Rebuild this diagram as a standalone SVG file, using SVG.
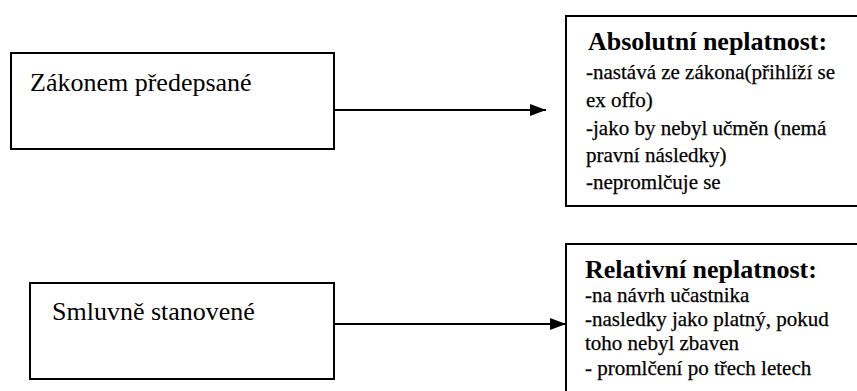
<svg xmlns="http://www.w3.org/2000/svg" width="857" height="391" viewBox="0 0 857 391">
  <style>
    .box { fill: #fff; stroke: #000; stroke-width: 2; }
    .conn { stroke: #000; stroke-width: 2; fill: none; marker-end: url(#arrow); }
  </style>
  <defs>
    <marker id="arrow" markerWidth="16" markerHeight="12" refX="16" refY="6" orient="auto" markerUnits="userSpaceOnUse">
      <path d="M0,0 L16,6 L0,12 Z" fill="#000"/>
    </marker>
  </defs>
  <rect width="857" height="391" fill="#fff"/>

  <g id="node-zakonem" font-family="Liberation Serif" font-size="26" fill="#000">
    <rect class="box" x="11" y="53" width="323" height="96"/>
    <text x="30" y="91">Zákonem předepsané</text>
  </g>

  <g id="node-smluvne" font-family="Liberation Serif" font-size="26" fill="#000">
    <rect class="box" x="30" y="283" width="304" height="96"/>
    <text x="52" y="320">Smluvně stanovené</text>
  </g>

  <g id="node-absolutni" font-family="Liberation Serif" font-size="21" fill="#000">
    <rect class="box" x="566" y="16" width="300" height="190"/>
    <text x="588" y="50" font-size="26" font-weight="bold">Absolutní neplatnost:</text>
    <g stroke="#000" stroke-width="0.25">
      <text x="586" y="79">-nastává ze zákona(přihlíží se</text>
      <text x="586" y="107">ex offo)</text>
      <text x="586" y="135">-jako by nebyl učměn (nemá</text>
      <text x="586" y="162">pravní následky)</text>
      <text x="586" y="189">-nepromlčuje se</text>
    </g>
  </g>

  <g id="node-relativni" font-family="Liberation Serif" font-size="21" fill="#000">
    <rect class="box" x="566" y="244" width="300" height="160"/>
    <text x="585" y="278" font-size="26" font-weight="bold">Relativní neplatnost:</text>
    <g stroke="#000" stroke-width="0.25">
      <text x="585" y="302">-na návrh učastnika</text>
      <text x="585" y="326">-nasledky jako platný, pokud</text>
      <text x="585" y="350">toho nebyl zbaven</text>
      <text x="585" y="375">- promlčení po třech letech</text>
    </g>
  </g>

  <g id="connectors">
    <line class="conn" x1="334" y1="110" x2="546" y2="110"/>
    <line class="conn" x1="334" y1="324" x2="566" y2="324"/>
  </g>
</svg>
